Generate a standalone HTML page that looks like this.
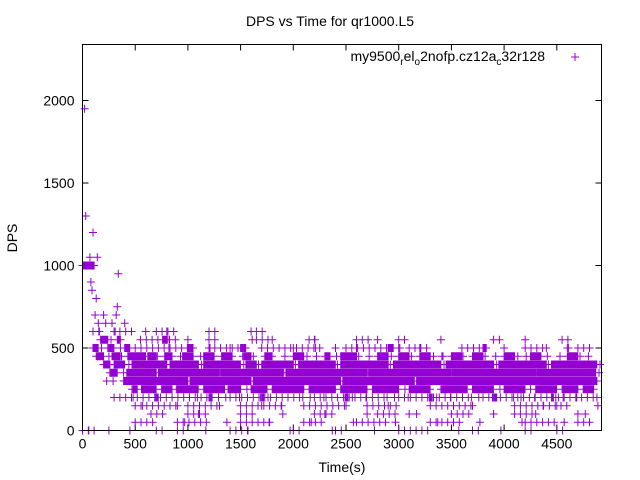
<!DOCTYPE html>
<html><head><meta charset="utf-8"><style>
body{margin:0;background:#fff;}
svg{display:block;font-family:"Liberation Sans",sans-serif;}
</style></head><body>
<svg id="chart" width="640" height="480">
<text x="330" y="26" font-size="14" text-anchor="middle">DPS vs Time for qr1000.L5</text>
<text x="342" y="472" font-size="14" text-anchor="middle">Time(s)</text>
<text x="17" y="238" font-size="14" text-anchor="middle" transform="rotate(-90 17 238)">DPS</text>
<g>
<text x="545" y="61" font-size="14" text-anchor="end">my9500<tspan font-size="10" dy="4">r</tspan><tspan dy="-4">el</tspan><tspan font-size="10" dy="4">o</tspan><tspan dy="-4">2nofp.cz12a</tspan><tspan font-size="10" dy="4">c</tspan><tspan dy="-4">32r128</tspan></text>
<path d="M571,57h8M575,53v8" stroke="#9400d3" stroke-width="1"/>
</g>
<g id="axes"></g>
<g id="points"></g>
<rect x="82.5" y="44.5" width="519" height="386" fill="none" stroke="#000"/>
</svg>
<script>
const xTicks=[0,500,1000,1500,2000,2500,3000,3500,4000,4500];
const yTicks=[0,500,1000,1500,2000];
const timeStep=10;
const runStep=3;
const sparseStep=55;
const dps=[
1000,1000,1950,1300,1000,1000,0,1050,900,850,1200,1000,700,800,1050,650,600,550,500,450,
700,550,650,300,500,450,400,550,650,300,350,600,700,750,950,550,500,450,400,350,
650,600,500,450,400,350,300,250,200,400,450,350,300,400,350,300,250,150,350,400,
600,500,450,400,350,300,250,400,350,200,300,450,350,400,300,250,100,350,300,400,
600,550,500,450,400,350,300,400,300,250,150,350,400,450,300,350,200,50,300,400,
550,450,400,350,300,250,400,350,300,200,100,350,450,400,300,350,250,0,300,400,
600,500,450,400,350,300,250,400,300,200,150,350,400,450,300,350,200,50,300,350,
500,450,400,350,300,250,400,350,300,200,100,350,450,400,300,350,250,0,300,400,
600,550,450,400,350,300,250,400,350,200,150,350,400,450,300,350,200,50,300,400,
550,500,400,350,300,250,400,350,300,150,100,350,450,400,300,350,250,0,300,400,
500,450,400,350,300,250,400,350,300,200,150,350,400,450,300,350,200,50,300,350,
550,500,450,400,350,300,250,400,300,200,100,350,450,400,300,350,250,0,300,400,
500,450,400,350,300,250,400,350,300,200,150,350,400,450,300,350,200,50,300,400,
500,500,450,400,350,300,250,400,350,200,100,350,450,400,300,350,250,0,300,400,
550,450,400,350,300,250,400,350,300,200,150,350,400,450,300,350,200,50,300,350,
500,500,450,400,350,300,250,400,300,200,100,350,450,400,300,350,250,100,300,400,
500,450,400,350,300,250,400,350,300,200,150,350,400,450,300,350,200,50,300,400,
550,450,450,400,350,300,250,400,350,200,100,350,450,400,300,350,250,0,300,400,
500,450,400,350,300,250,400,350,300,200,150,350,400,450,300,350,200,50,300,350,
450,500,450,400,350,300,250,400,300,200,100,350,450,400,300,350,250,0,300,400,
500,450,400,350,300,250,400,350,300,200,150,350,400,450,300,350,200,50,300,400,
550,450,400,350,300,250,400,350,300,200,100,350,450,400,300,350,250,150,300,400,
500,450,400,350,300,250,400,350,300,200,150,350,400,450,300,350,200,50,300,350,
500,500,450,400,350,300,250,400,300,200,100,350,450,400,300,350,250,100,300,400,
450,400,350,300,250,400,350,300,200,150,350,400
];
// dense runs: value level and [start,end] time ranges (s)
const runLevels=[1000,550,500,450,400,350,300,250,200];
const runRanges=[
[[0,110]],
[[180,240],[330,360],[760,800]],
[[100,150],[250,300],[400,450],[1000,1050],[1500,1550],[2900,2950],[3800,3830]],
[[130,200],[280,360],[430,600],[620,700],[780,850],[950,1050],[1150,1250],[1320,1420],[1530,1600],[1730,1800],[2000,2100],[2300,2350],[2450,2600],[2800,2900],[3000,3100],[3200,3300],[3500,3600],[3700,3800],[4000,4100],[4250,4350],[4600,4700]],
[[200,260],[300,400],[470,800],[830,1100],[1150,1500],[1550,1650],[1700,2000],[2050,2400],[2450,2900],[2950,3400],[3450,3900],[3950,4400],[4450,4880]],
[[260,330],[420,700],[720,1300],[1320,1900],[1930,2700],[2720,3500],[3520,4300],[4320,4870]],
[[390,1000],[1020,1600],[1620,2450],[2470,3150],[3170,4880]],
[[480,520],[560,700],[750,850],[900,1100],[1150,1350],[1380,1500],[1600,1750],[1800,2100],[2150,2400],[2450,2700],[2750,3000],[3100,3300],[3400,3650],[3700,3900],[4000,4200],[4300,4500],[4550,4700],[4750,4850]],
[[700,720],[1200,1230],[1700,1720],[2500,2520],[3300,3320],[3900,3930],[4450,4470]]
];
// sparse clusters: level and [start,end] time ranges with separated points
const sparseLevels=[600,550,500,200,150,100,50,0];
const sparseRanges=[
[[100,200],[300,500],[700,900],[1200,1300],[1650,1750]],
[[550,900],[1200,1300],[1650,1800],[2150,2250],[2600,2750],[3000,3100],[3900,4000],[4550,4650]],
[[500,1000],[1200,1500],[1700,2300],[2500,2900],[3100,3300],[3600,3800],[4200,4400],[4700,4850]],
[[300,1200],[1400,2100],[2200,2900],[3000,3700],[3800,4850]],
[[500,900],[1000,1300],[1500,1900],[2100,2500],[2700,3000],[3300,3700],[4100,4600]],
[[650,800],[1000,1200],[1500,1650],[2200,2400],[2800,3000],[3500,3700],[4100,4300]],
[[500,700],[900,1200],[1500,1800],[2100,2300],[2600,2900],[3300,3600],[4200,4500],[4700,4850]],
[[0,150],[250,300],[450,500],[700,800],[900,1000],[1400,1600],[2000,2100],[2400,2500],[3000,3300],[3700,3800],[4200,4300],[4500,4600]]
];
const L=82.5,R=601.5,T=44.5,B=430.5,XMAX=4924,YMAX=2339;
const xs=v=>L+v/XMAX*(R-L);
const ys=v=>B-v/YMAX*(B-T);
const NS="http://www.w3.org/2000/svg";
const axes=document.getElementById('axes');
const pts=document.getElementById('points');
xTicks.forEach(v=>{
 const x=xs(v);
 const p=document.createElementNS(NS,'path');
 p.setAttribute('d',`M${x},${B}v-6M${x},${T}v6`);p.setAttribute('stroke','#000');
 
 
 axes.appendChild(p);
 const t=document.createElementNS(NS,'text');
 t.setAttribute('x',x);t.setAttribute('y',B+18);t.setAttribute('font-size','14');t.setAttribute('text-anchor','middle');
 t.textContent=v;
 
 
 axes.appendChild(t);
});
yTicks.forEach(v=>{
 const y=ys(v);
 const p=document.createElementNS(NS,'path');
 p.setAttribute('d',`M${L},${y}h6M${R},${y}h-6`);p.setAttribute('stroke','#000');
 
 
 axes.appendChild(p);
 const t=document.createElementNS(NS,'text');
 t.setAttribute('x',L-8);t.setAttribute('y',y+5);t.setAttribute('font-size','14');t.setAttribute('text-anchor','end');
 t.textContent=v;
 
 
 axes.appendChild(t);
});
let d='';
const plus=(t,v)=>{const x=xs(t),y=ys(v);d+=`M${(x-4).toFixed(1)},${y.toFixed(1)}h8M${x.toFixed(1)},${(y-4).toFixed(1)}v8`;};
dps.forEach((v,i)=>plus(i*timeStep,v));
runLevels.forEach((v,k)=>{
 runRanges[k].forEach(r=>{for(let t=r[0];t<=r[1];t+=runStep)plus(t,v);});
});
sparseLevels.forEach((v,k)=>{
 sparseRanges[k].forEach(r=>{for(let t=r[0];t<=r[1];t+=sparseStep)plus(t,v);});
});
const pp=document.createElementNS(NS,'path');
pp.setAttribute('d',d);pp.setAttribute('stroke','#9400d3');pp.setAttribute('stroke-width','1');pp.setAttribute('fill','none');


pts.appendChild(pp);
</script>
</body></html>
